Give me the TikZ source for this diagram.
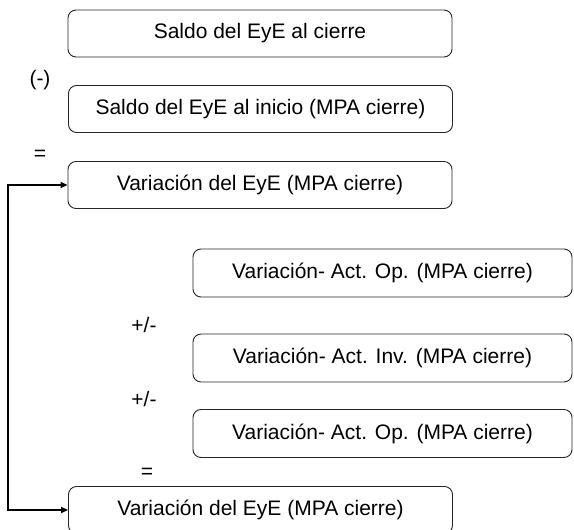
\documentclass[tikz,border=0pt]{standalone}
\usepackage{fontspec}
\setmainfont{Liberation Sans}
\usetikzlibrary{arrows.meta}
\begin{document}
\begin{tikzpicture}[x=1pt,y=-1pt,
  box/.style={draw=black!85, line width=0.9pt, rounded corners=8pt, inner sep=0pt,
    font=\fontsize{21}{25}\selectfont},
  wbox/.style={box, minimum width=384pt, minimum height=47pt},
  nbox/.style={box, minimum width=379pt, minimum height=48pt},
  lbl/.style={inner sep=0pt, font=\fontsize{21}{25}\selectfont},
  conn/.style={line width=2.2pt, black, {Triangle[length=7pt,width=6pt]}-{Triangle[length=7pt,width=6pt]}}
]
\useasboundingbox (0,0) rectangle (574,530);
\node[wbox] (b1) at (260,33.5) {Saldo del EyE al cierre};
\node[wbox] (b2) at (260.5,109) {Saldo del EyE al inicio (MPA cierre)};
\node[wbox] (b3) at (260,185) {Variación del EyE (MPA cierre)};
\node[nbox] (b4) at (382.5,273) {Variación- Act. Op. (MPA cierre)};
\node[nbox] (b5) at (382.5,358) {Variación- Act. Inv. (MPA cierre)};
\node[nbox] (b6) at (382.5,433.5) {Variación- Act. Op. (MPA cierre)};
\node[wbox] (b7) at (260.5,510) {Variación del EyE (MPA cierre)};
\node[lbl] (m1) at (40,80) {(-)};
\node[lbl] (e1) at (40,155) {=};
\node[lbl] (p1) at (144,325) {+/-};
\node[lbl] (p2) at (144,399) {+/-};
\node[lbl] (e2) at (147,473) {=};
\coordinate (c7) at (8,510);
\draw[conn] (b7.west) -- (c7) |- (b3.west);
\end{tikzpicture}
\end{document}
